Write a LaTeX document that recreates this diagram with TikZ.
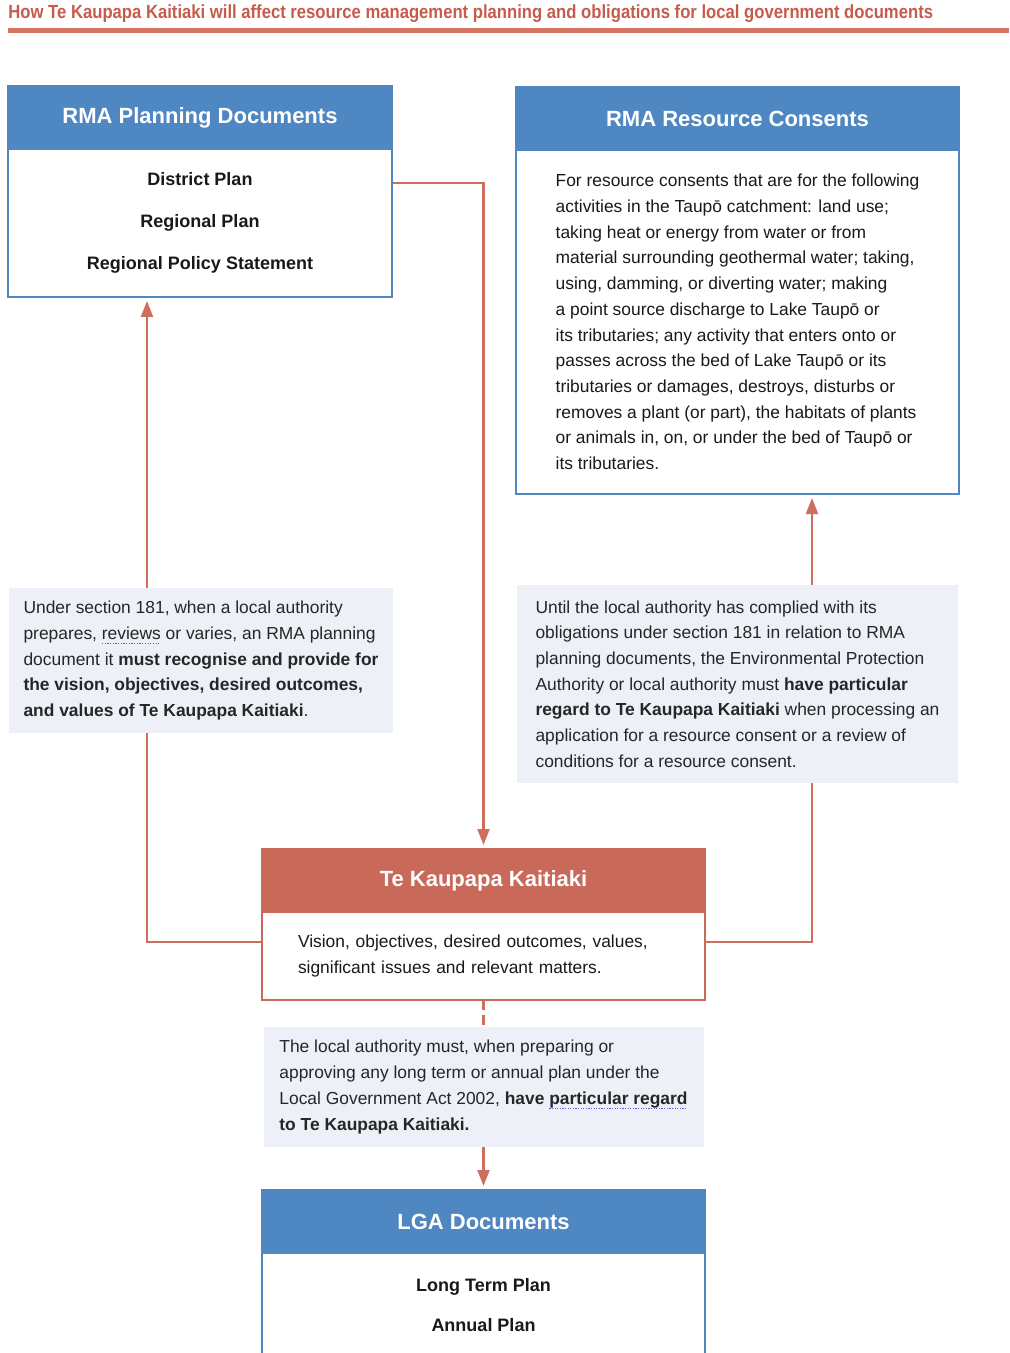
\documentclass[tikz,border=0pt]{standalone}
\usepackage{fontspec}
\setmainfont{Liberation Sans}
\usepackage{graphicx}
\usetikzlibrary{arrows.meta, positioning, backgrounds}
\definecolor{rmablue}{HTML}{4F87C2}
\definecolor{tkred}{HTML}{C8695A}
\definecolor{linkred}{HTML}{CF6E5E}
\definecolor{titlered}{HTML}{C65B4B}
\definecolor{rulered}{HTML}{D4735F}
\definecolor{notebg}{HTML}{EEF0F8}
\definecolor{squigblue}{HTML}{5A5AD0}
\newcommand\bodyfont{\fontsize{8.7}{12.85}\selectfont}
% dotted spell-check underline
\newsavebox\squigbox
\newcommand\squig[1]{\sbox\squigbox{#1}%
  \rlap{\textcolor{squigblue}{\lower2.2pt\hbox to\wd\squigbox{%
    \xleaders\hbox{\rule{0.6pt}{0.6pt}\kern0.7pt}\hfill}}}%
  \usebox\squigbox}
\tikzset{
  headbox/.style={draw=#1, fill=#1, line width=1.3pt, minimum width=221.5pt,
                  minimum height=31.5pt, inner sep=0pt, outer sep=0pt, text=white,
                  font=\fontsize{11}{13}\selectfont\bfseries},
  bodybox/.style={draw=#1, fill=white, line width=1.3pt, minimum width=221.5pt,
                  inner sep=0pt, outer sep=0pt, align=center, text=black!90},
  notebox/.style={fill=notebg, inner sep=0pt, outer sep=0pt, align=left,
                  text=black!85, font=\bodyfont},
  redline/.style={line width=1.1pt, linkred},
  redarr/.style={-{Triangle[length=8pt, width=6pt]}, line width=1.1pt, linkred,
                 shorten >=2pt},
}
\begin{document}
\begin{tikzpicture}[x=0.5pt, y=-0.5pt, node distance=0pt]
  \useasboundingbox (0,0) rectangle (1009,1353);
  \clip (0,0) rectangle (1009,1353);

  %% -- Title ---------------------------------------------------------------
  \node[anchor=west, inner sep=0pt, text=titlered,
        font=\fontsize{9.5}{11}\selectfont\bfseries] (title) at (8,14)
    {\scalebox{0.877}[1]{How Te Kaupapa Kaitiaki will affect resource management planning and obligations for local government documents}};
  \coordinate (ruleend) at (1009,31);
  \draw[line width=2.5pt, rulered] (title.west |- ruleend) -- (ruleend);

  %% -- RMA planning documents (upper left) ---------------------------------
  \node[headbox=rmablue, minimum width=192pt, anchor=north west]
    (phead) at (8,86) {RMA Planning Documents};
  \node[bodybox=rmablue, minimum width=192pt, minimum height=74pt,
        font=\fontsize{9}{21}\selectfont\bfseries, below=of phead]
    (pbody) {District Plan\\Regional Plan\\Regional Policy Statement};

  %% -- RMA resource consents (upper right) ---------------------------------
  \node[headbox=rmablue, anchor=north west]
    (chead) at (516,87) {RMA Resource Consents};
  \node[bodybox=rmablue, minimum height=172pt, align=left, font=\bodyfont,
        below=of chead]
    (cbody) {For resource consents that are for the following\\
             activities in the Taupō catchment: land use;\\
             taking heat or energy from water or from\\
             material surrounding geothermal water; taking,\\
             using, damming, or diverting water; making\\
             a point source discharge to Lake Taupō or\\
             its tributaries; any activity that enters onto or\\
             passes across the bed of Lake Taupō or its\\
             tributaries or damages, destroys, disturbs or\\
             removes a plant (or part), the habitats of plants\\
             or animals in, on, or under the bed of Taupō or\\
             its tributaries.};

  %% -- Te Kaupapa Kaitiaki (centre) ----------------------------------------
  \node[headbox=tkred, anchor=north west]
    (tkhead) at (262,849) {Te Kaupapa Kaitiaki};
  \node[bodybox=tkred, minimum height=44pt, text width=185.5pt, inner xsep=18pt,
        align=left, font=\bodyfont, below=of tkhead]
    (tkbody) {Vision, objectives, desired outcomes, values,\\
              significant issues and relevant matters.};

  %% -- Notes ---------------------------------------------------------------
  \node[notebox, minimum width=192pt, minimum height=72.5pt, anchor=north west]
    (lnote) at (9,588)
    {Under section 181, when a local authority\\
     prepares, \squig{reviews} or varies, an RMA planning\\
     document it \textbf{must recognise and provide for}\\
     \textbf{the vision, objectives, desired outcomes,}\\
     \textbf{and values of Te Kaupapa Kaitiaki}.};

  \node[notebox, minimum width=220.5pt, minimum height=99pt, anchor=north west]
    (rnote) at (517,585)
    {Until the local authority has complied with its\\
     obligations under section 181 in relation to RMA\\
     planning documents, the Environmental Protection\\
     Authority or local authority must \textbf{have particular}\\
     \textbf{regard to Te Kaupapa Kaitiaki} when processing an\\
     application for a resource consent or a review of\\
     conditions for a resource consent.};

  \node[notebox, minimum width=220pt, minimum height=60pt, below=13.5pt of tkbody]
    (bnote)
    {The local authority must, when preparing or\\
     approving any long term or annual plan under the\\
     Local Government Act 2002, \textbf{have \squig{particular regard}}\\
     \textbf{to Te Kaupapa Kaitiaki.}};

  %% -- LGA documents (bottom, runs off the page) ---------------------------
  \node[headbox=rmablue, below=21.5pt of bnote] (lghead) {LGA Documents};
  \node[bodybox=rmablue, minimum height=52pt,
        font=\fontsize{9}{20}\selectfont\bfseries, below=of lghead]
    (lgbody) {Long Term Plan\\Annual Plan};

  %% -- Connectors ----------------------------------------------------------
  \begin{scope}[on background layer]
    \draw[redarr] ([yshift=20pt]pbody.east) -| (tkhead.north);
    \draw[redarr] ([yshift=7pt]tkbody.west) -| ([xshift=-26.5pt]pbody.south);
    \draw[redarr] ([yshift=7pt]tkbody.east) -| ([xshift=37.25pt]cbody.south);
    \draw[redline, dash pattern=on 5pt off 2.5pt] (tkbody.south) -- (bnote.north);
    \draw[redarr] (bnote.south) -- (lghead.north);
  \end{scope}

\end{tikzpicture}
\end{document}
